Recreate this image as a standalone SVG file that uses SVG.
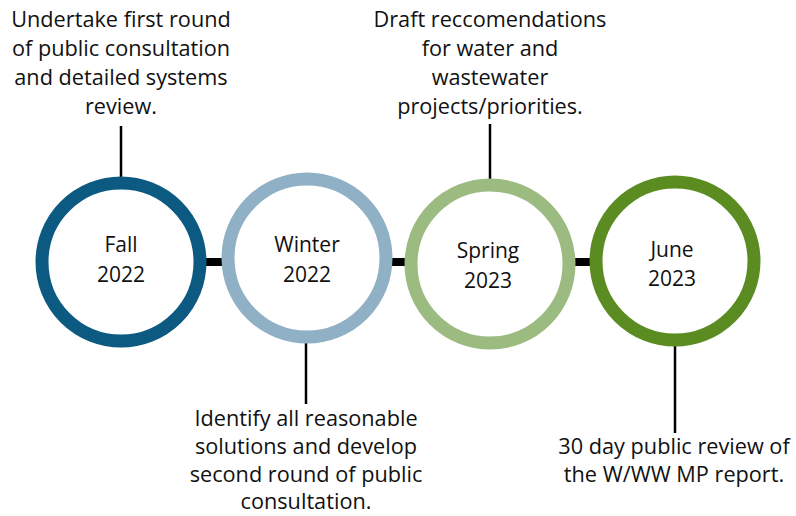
<svg xmlns="http://www.w3.org/2000/svg" width="796" height="516" viewBox="0 0 796 516">
<style>
.ring{fill:#fff;stroke-width:13}
.t{font-family:"Open Sans","Noto Sans",sans-serif;font-size:21.7px;fill:#111;text-anchor:middle}
.c{font-family:"Open Sans","Noto Sans",sans-serif;font-size:21px;fill:#111;text-anchor:middle}
.bar{stroke:#000;stroke-width:8}
.stem{stroke:#000;stroke-width:2.5}
</style>
<rect width="796" height="516" fill="#fff"/>
<g id="connectors">
<line class="bar" x1="200" y1="262" x2="228" y2="262"/>
<line class="bar" x1="386" y1="262" x2="410" y2="262"/>
<line class="bar" x1="570" y1="262" x2="596" y2="262"/>
<line class="stem" x1="121" y1="126" x2="121" y2="180"/>
<line class="stem" x1="306" y1="342" x2="306" y2="404"/>
<line class="stem" x1="490" y1="124" x2="490" y2="182"/>
<line class="stem" x1="675" y1="342" x2="675" y2="433"/>
</g>
<g id="fall">
<circle class="ring" cx="121" cy="262" r="79" stroke="#0c5a81"/>
<text class="c" x="121" y="252">Fall</text>
<text class="c" x="121" y="282">2022</text>
</g>
<g id="winter">
<circle class="ring" cx="307" cy="258" r="79" stroke="#8fb0c5"/>
<text class="c" x="307" y="252">Winter</text>
<text class="c" x="307" y="282">2022</text>
</g>
<g id="spring">
<circle class="ring" cx="490" cy="264" r="79" stroke="#9bbb80"/>
<text class="c" x="488" y="258">Spring</text>
<text class="c" x="488" y="288">2023</text>
</g>
<g id="june">
<circle class="ring" cx="675" cy="261" r="79" stroke="#5b8c22"/>
<text class="c" x="672" y="257">June</text>
<text class="c" x="672" y="286">2023</text>
</g>
<g id="note-fall">
<text class="t" x="121" y="27">Undertake first round</text>
<text class="t" x="121" y="56">of public consultation</text>
<text class="t" x="121" y="85">and detailed systems</text>
<text class="t" x="121" y="114">review.</text>
</g>
<g id="note-spring">
<text class="t" x="490" y="27">Draft reccomendations</text>
<text class="t" x="490" y="56">for water and</text>
<text class="t" x="490" y="85">wastewater</text>
<text class="t" x="490" y="114">projects/priorities.</text>
</g>
<g id="note-winter">
<text class="t" x="306" y="426">Identify all reasonable</text>
<text class="t" x="306" y="454">solutions and develop</text>
<text class="t" x="306" y="482">second round of public</text>
<text class="t" x="306" y="509">consultation.</text>
</g>
<g id="note-june">
<text class="t" x="674" y="454">30 day public review of</text>
<text class="t" x="674" y="482">the W/WW MP report.</text>
</g>
</svg>
